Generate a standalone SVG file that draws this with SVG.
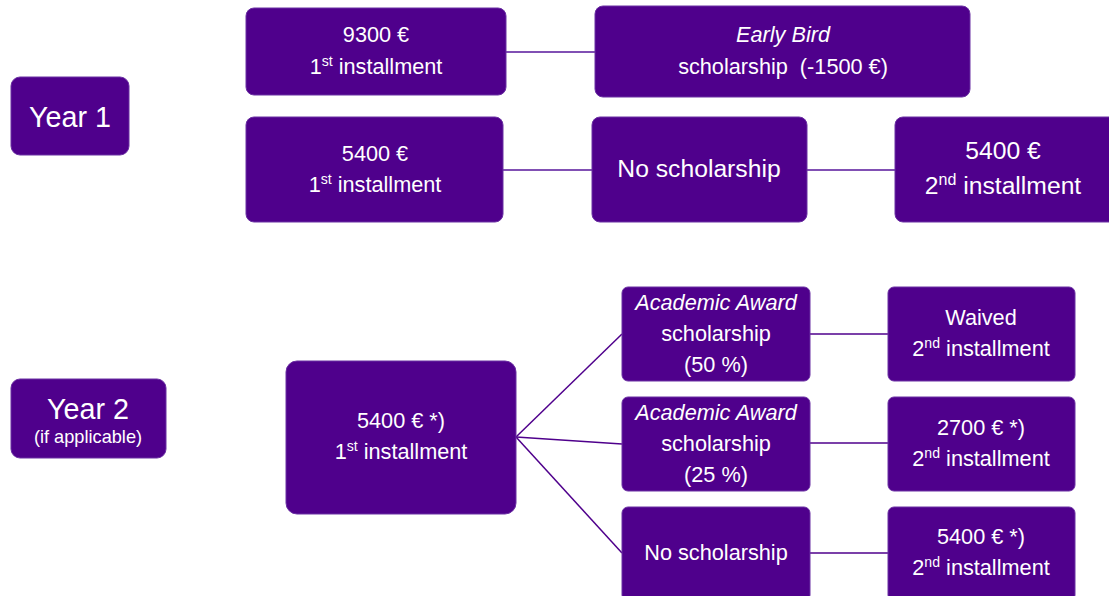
<svg xmlns="http://www.w3.org/2000/svg" width="1109" height="596" viewBox="0 0 1109 596">
<style>
.box{fill:#4f008c;stroke:#6b30a3;stroke-width:1}
text{fill:#ffffff;font-family:"Liberation Sans",Arial,sans-serif;text-anchor:middle}
.f21{font-size:21.7px}
.f24{font-size:24.7px}
.f28{font-size:28.7px}
.f18{font-size:18.2px}
.it{font-style:italic}
.sup{font-size:0.65em}
.c1{stroke:#8150b4;stroke-width:2;fill:none}
.c2{stroke:#4f008c;stroke-width:1.5;fill:none}
</style>
<g id="connectors">
<line class="c1" x1="506" y1="52" x2="595" y2="52"/>
<line class="c1" x1="503" y1="170" x2="592" y2="170"/>
<line class="c1" x1="807" y1="170" x2="895" y2="170"/>
<line class="c2" x1="516" y1="437" x2="622" y2="334"/>
<line class="c2" x1="516" y1="437" x2="622" y2="444"/>
<line class="c2" x1="516" y1="437" x2="622" y2="553"/>
<line class="c2" x1="810" y1="334" x2="888" y2="334"/>
<line class="c2" x1="810" y1="443" x2="888" y2="443"/>
<line class="c2" x1="810" y1="553" x2="888" y2="553"/>
</g>
<g id="year1">
<rect class="box" x="11" y="77" width="118" height="78" rx="9"/>
<text class="f28" x="70" y="127">Year 1</text>
</g>
<g id="y1-first-9300">
<rect class="box" x="246" y="8" width="260" height="87" rx="8"/>
<text class="f21" x="376" y="42">9300 €</text>
<text class="f21" x="376" y="74">1<tspan class="sup" dy="-8">st</tspan><tspan dy="8"> installment</tspan></text>
</g>
<g id="y1-earlybird">
<rect class="box" x="595" y="6" width="375" height="91" rx="8"/>
<text class="f21 it" x="783" y="42">Early Bird</text>
<text class="f21" x="783" y="74" xml:space="preserve">scholarship  (-1500 €)</text>
</g>
<g id="y1-first-5400">
<rect class="box" x="246" y="117" width="257" height="105" rx="8"/>
<text class="f21" x="375" y="161">5400 €</text>
<text class="f21" x="375" y="192">1<tspan class="sup" dy="-8">st</tspan><tspan dy="8"> installment</tspan></text>
</g>
<g id="y1-noscholarship">
<rect class="box" x="592" y="117" width="215" height="105" rx="8"/>
<text class="f24" x="699" y="177">No scholarship</text>
</g>
<g id="y1-second-5400">
<rect class="box" x="895" y="117" width="222" height="105" rx="8"/>
<text class="f24" x="1003" y="159">5400 €</text>
<text class="f24" x="1003" y="194">2<tspan class="sup" dy="-9">nd</tspan><tspan dy="9"> installment</tspan></text>
</g>
<g id="year2">
<rect class="box" x="11" y="379" width="155" height="79" rx="9"/>
<text class="f28" x="88" y="419">Year 2</text>
<text class="f18" x="88" y="443">(if applicable)</text>
</g>
<g id="y2-first">
<rect class="box" x="286" y="361" width="230" height="153" rx="11"/>
<text class="f21" x="401" y="428">5400 € *)</text>
<text class="f21" x="401" y="459">1<tspan class="sup" dy="-8">st</tspan><tspan dy="8"> installment</tspan></text>
</g>
<g id="y2-award50">
<rect class="box" x="622" y="287" width="188" height="94" rx="6"/>
<text class="f21 it" x="716" y="310">Academic Award</text>
<text class="f21" x="716" y="341">scholarship</text>
<text class="f21" x="716" y="372">(50 %)</text>
</g>
<g id="y2-award25">
<rect class="box" x="622" y="397" width="188" height="94" rx="6"/>
<text class="f21 it" x="716" y="420">Academic Award</text>
<text class="f21" x="716" y="451">scholarship</text>
<text class="f21" x="716" y="482">(25 %)</text>
</g>
<g id="y2-noscholarship">
<rect class="box" x="622" y="507" width="188" height="94" rx="6"/>
<text class="f21" x="716" y="560">No scholarship</text>
</g>
<g id="y2-waived">
<rect class="box" x="888" y="287" width="187" height="94" rx="6"/>
<text class="f21" x="981" y="325">Waived</text>
<text class="f21" x="981" y="356">2<tspan class="sup" dy="-8">nd</tspan><tspan dy="8"> installment</tspan></text>
</g>
<g id="y2-2700">
<rect class="box" x="888" y="397" width="187" height="94" rx="6"/>
<text class="f21" x="981" y="435">2700 € *)</text>
<text class="f21" x="981" y="466">2<tspan class="sup" dy="-8">nd</tspan><tspan dy="8"> installment</tspan></text>
</g>
<g id="y2-5400">
<rect class="box" x="888" y="507" width="187" height="94" rx="6"/>
<text class="f21" x="981" y="544">5400 € *)</text>
<text class="f21" x="981" y="575">2<tspan class="sup" dy="-8">nd</tspan><tspan dy="8"> installment</tspan></text>
</g>
</svg>
